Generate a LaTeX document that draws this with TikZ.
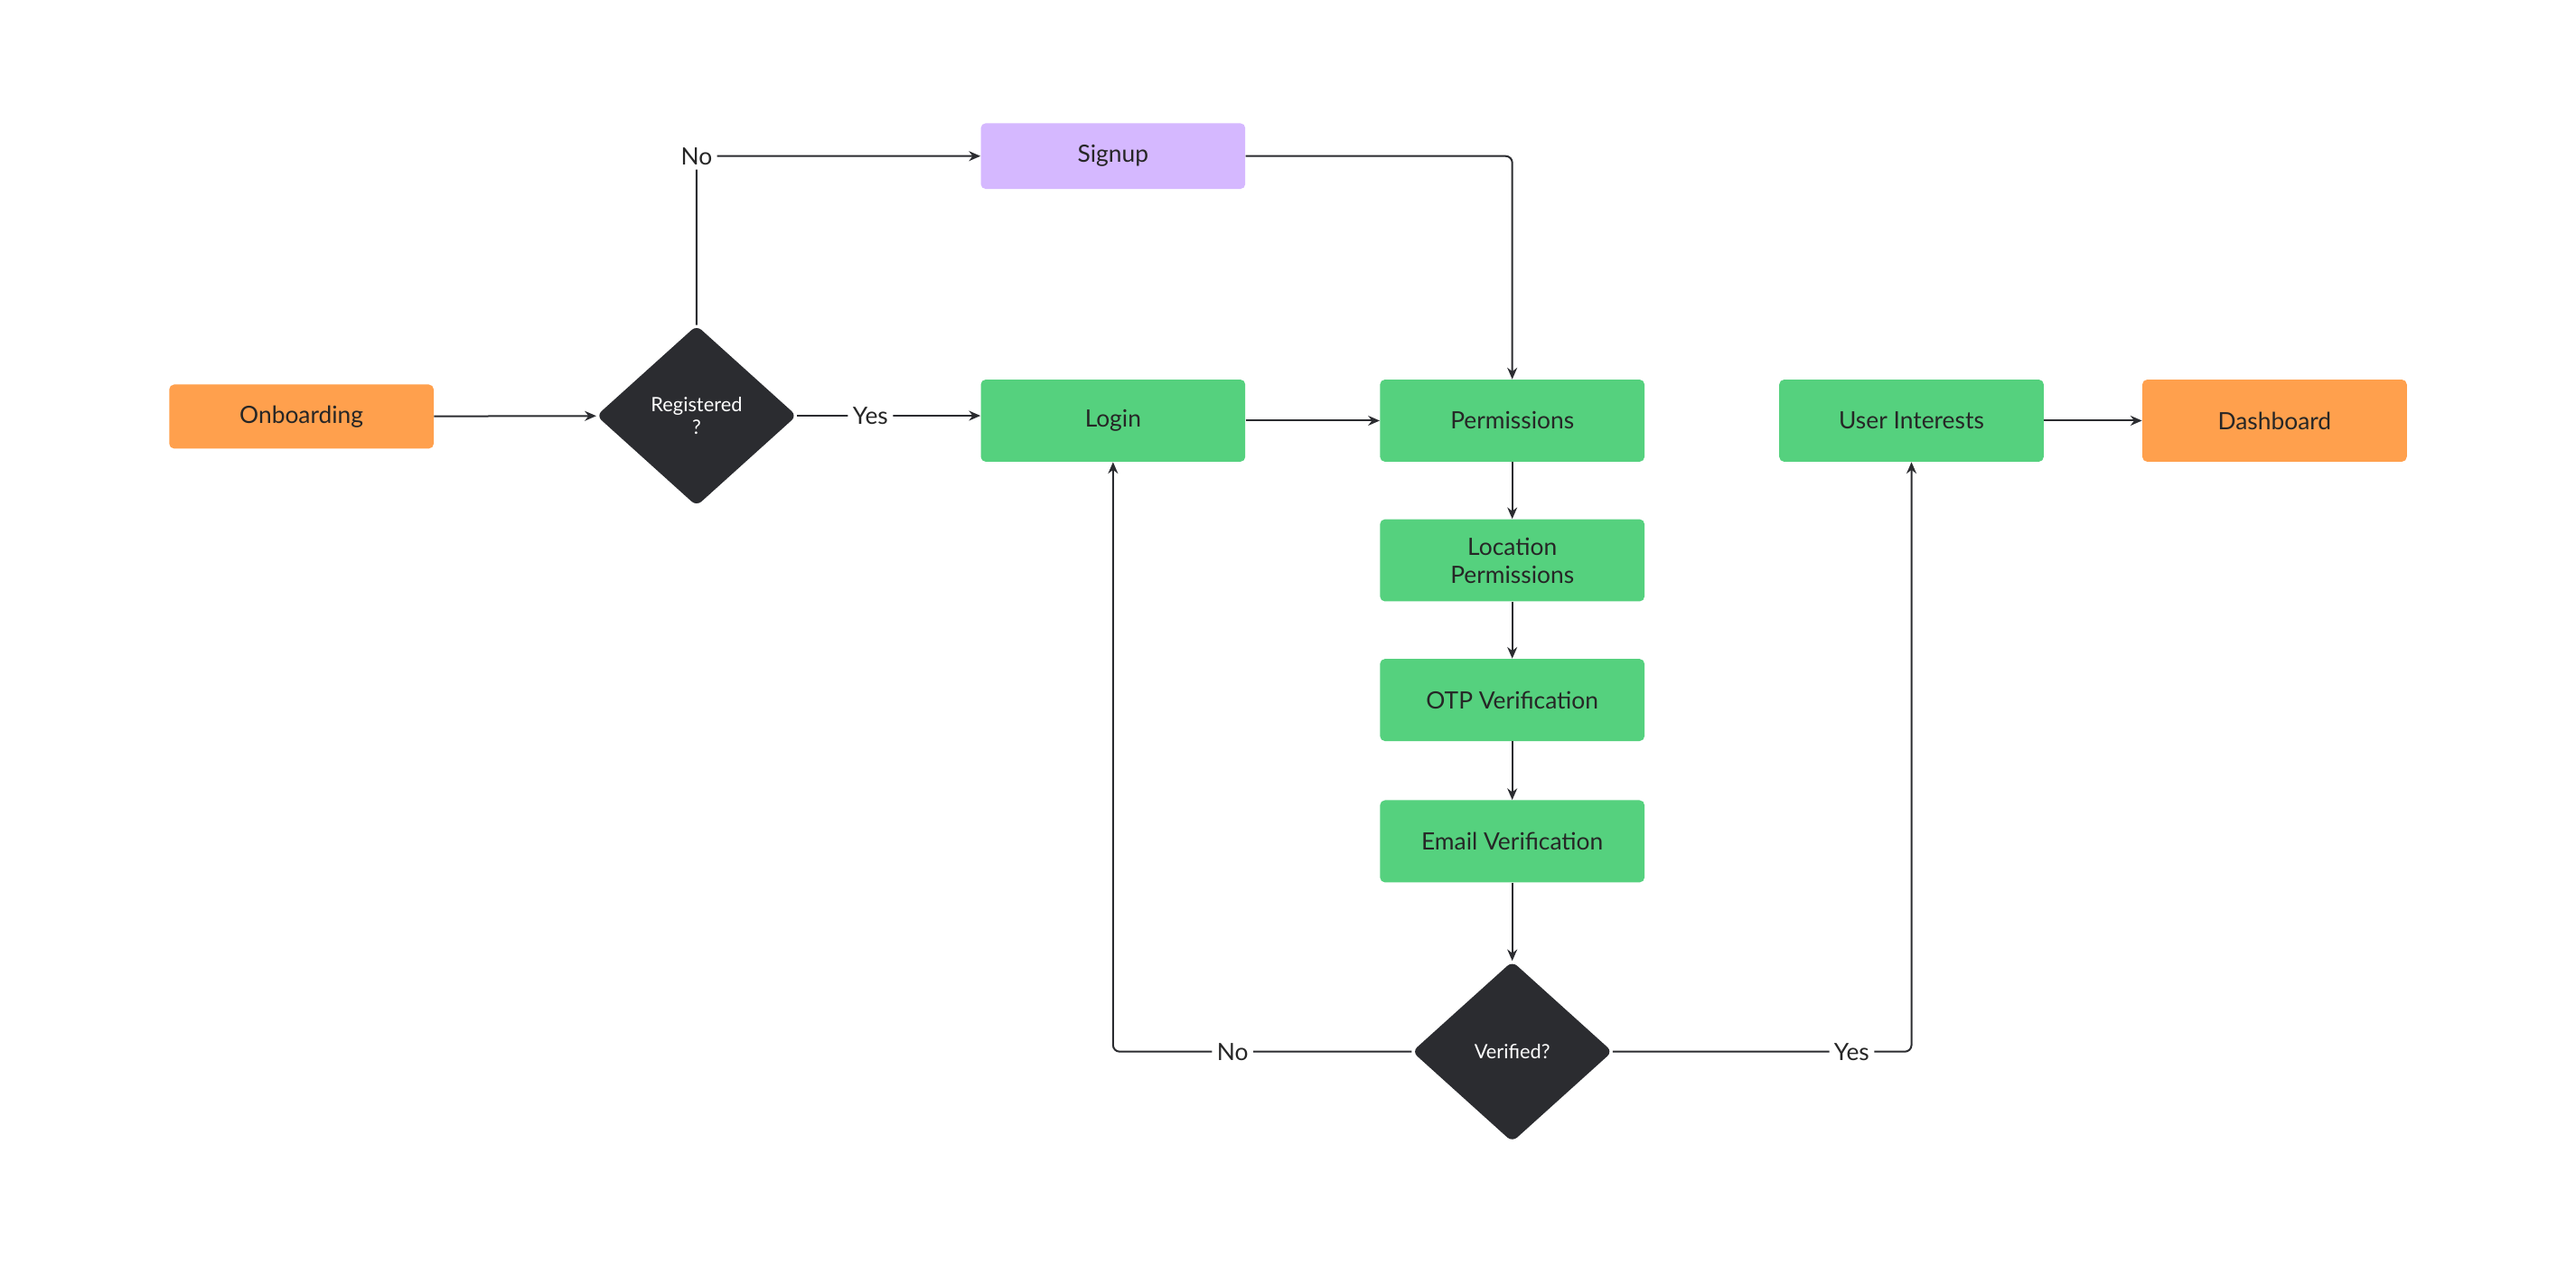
\documentclass[tikz,border=0pt]{standalone}
\usepackage{fontspec}
\setmainfont{Lato}
\usetikzlibrary{shapes.geometric,arrows.meta}
\definecolor{og}{HTML}{FFA04D}
\definecolor{gr}{HTML}{55D17E}
\definecolor{pu}{HTML}{D5B8FF}
\definecolor{dk}{HTML}{2B2C30}
\definecolor{ln}{HTML}{2B2C30}
\begin{document}
\begin{tikzpicture}[x=1pt,y=-1pt,
 box/.style={rectangle,rounded corners=3pt,minimum width=161pt,minimum height=50pt,align=center,font=\fontsize{14.5}{17}\selectfont,text=black!85,inner sep=0pt},
 dia/.style={diamond,fill=dk,text=white,minimum width=122pt,minimum height=110pt,rounded corners=4pt,align=center,inner sep=0pt,font=\fontsize{12}{14}\selectfont},
 ar/.style={draw=ln,line width=1.1pt,-{Stealth[length=7pt,width=6pt]},rounded corners=4pt},
 lb/.style={fill=white,font=\fontsize{14.5}{17}\selectfont,text=black!85,inner sep=3pt}]
\useasboundingbox[fill=white] (0,0) rectangle (1568,771);
\node[box,fill=og,minimum height=39pt] (onb) at (183.5,253.5) {Onboarding};
\node[dia] (reg) at (424,253) {Registered\\?};
\node[box,fill=pu,minimum height=40pt] (sig) at (677.5,95) {Signup};
\node[box,fill=gr] (log) at (677.5,256) {Login};
\node[box,fill=gr] (per) at (920.5,256) {Permissions};
\node[box,fill=gr] (loc) at (920.5,341) {Location\\Permissions};
\node[box,fill=gr] (otp) at (920.5,426) {OTP Verification};
\node[box,fill=gr] (ema) at (920.5,512) {Email Verification};
\node[dia] (ver) at (920.5,640) {Verified?};
\node[box,fill=gr] (usr) at (1163.5,256) {User Interests};
\node[box,fill=og] (das) at (1384.5,256) {Dashboard};
\draw[ar] (onb) -- (reg);
\draw[ar] (reg.north) |- (sig.west) node[lb,pos=0.5] {No};
\draw[ar] (reg.east) -- (log.west |- reg.east) node[lb,pos=0.4] {Yes};
\draw[ar] (sig.east) -| (per.north);
\draw[ar] (log) -- (per);
\draw[ar] (per) -- (loc);
\draw[ar] (loc) -- (otp);
\draw[ar] (otp) -- (ema);
\draw[ar] (ema) -- (ver.north);
\draw[ar] (ver.west) -| (log.south) node[lb,pos=0.3] {No};
\draw[ar] (ver.east) -| (usr.south) node[lb,pos=0.4] {Yes};
\draw[ar] (usr) -- (das);
\end{tikzpicture}
\end{document}
